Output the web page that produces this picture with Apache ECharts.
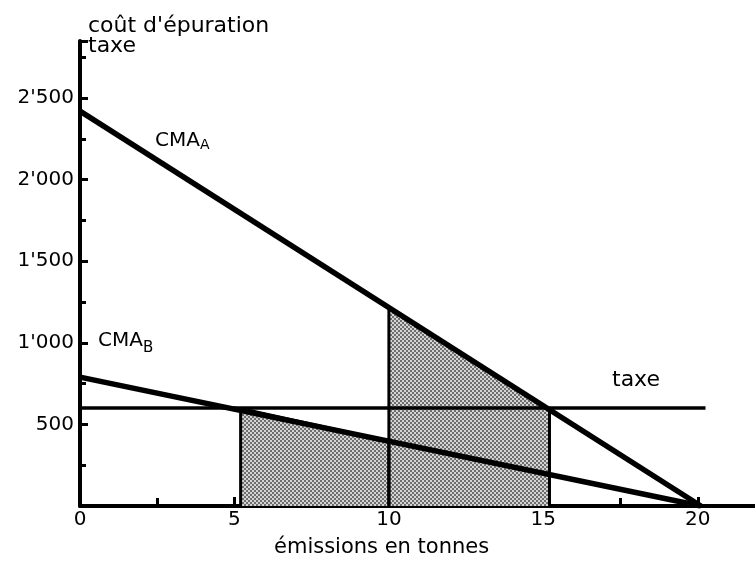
<!DOCTYPE html>
<html>
<head>
<meta charset="utf-8">
<script src="https://cdn.jsdelivr.net/npm/echarts@6/dist/echarts.min.js"></script>
<style>
html,body{margin:0;padding:0;background:#fff;}
#chart{width:755px;height:563px;}
</style>
</head>
<body>
<div id="chart"></div>
<script>
// ---- data ----
const cmaA = [[0, 2420], [20.1, 0]];          // CMA A
const cmaB = [[0, 790], [20.1, 0]];           // CMA B
const taxeLine = [[0, 600], [20.25, 600]];    // taxe
const areaA = [[10, 0], [10, 1215], [15.2, 592], [15.2, 0]];   // surface a
const areaB = [[5.2, 0], [5.2, 598], [10, 397], [10, 0]];      // surface b
const xTicks = [0, 5, 10, 15, 20];
const xTickLabels = ['0', '5', '10', '15', '20'];
const yTicks = [500, 1000, 1500, 2000, 2500];
const yTickLabels = ['500', "1'000", "1'500", "2'000", "2'500"];

const FONT = 'DejaVu Sans';
const chart = echarts.init(document.getElementById('chart'));

// stippled grey fill (checkerboard screen like the printed original)
const pat = document.createElement('canvas');
pat.width = 4; pat.height = 4;
const pctx = pat.getContext('2d');
pctx.fillStyle = '#d4d4d4'; pctx.fillRect(0, 0, 4, 4);
pctx.fillStyle = '#6e6e6e'; pctx.fillRect(0, 0, 2, 2); pctx.fillRect(2, 2, 2, 2);

function lineSeries(data, width, z) {
  return {
    type: 'line', data: data, showSymbol: false, animation: false, z: z,
    lineStyle: { color: '#000', width: width, cap: 'butt', join: 'miter' },
    silent: true
  };
}
function areaSeries(data) {
  return {
    type: 'line', data: data, showSymbol: false, animation: false, z: 1,
    lineStyle: { color: '#000', width: 3, cap: 'butt' },
    areaStyle: { color: { image: pat, repeat: 'repeat' }, opacity: 1 },
    silent: true
  };
}

chart.setOption({
  animation: false,
  backgroundColor: '#fff',
  grid: { left: 80, top: 41, height: 465, width: 695, containLabel: false, outerBoundsMode: 'none' },
  xAxis: {
    type: 'value', min: 0, max: 22.5, interval: 5,
    axisLine: { show: true, onZero: false, lineStyle: { color: '#000', width: 4 } },
    axisTick: { show: true, inside: true, length: 9, lineStyle: { color: '#000', width: 3 } },
    minorTick: { show: true, splitNumber: 2, length: 8, lineStyle: { color: '#000', width: 3 } },
    splitLine: { show: false },
    axisLabel: {
      color: '#000', fontFamily: FONT, fontSize: 20, margin: 4,
      formatter: v => { const i = xTicks.indexOf(v); return i >= 0 ? xTickLabels[i] : ''; }
    }
  },
  yAxis: {
    type: 'value', min: 0, max: 2850, interval: 500,
    axisLine: { show: true, onZero: false, lineStyle: { color: '#000', width: 4 } },
    axisTick: { show: true, inside: true, length: 8, lineStyle: { color: '#000', width: 3 } },
    minorTick: { show: true, splitNumber: 2, length: 6, lineStyle: { color: '#000', width: 3 } },
    splitLine: { show: false },
    axisLabel: {
      color: '#000', fontFamily: FONT, fontSize: 20, margin: 6,
      formatter: v => { const i = yTicks.indexOf(v); return i >= 0 ? yTickLabels[i] : ''; }
    }
  },
  series: [
    areaSeries(areaA),
    areaSeries(areaB),
    lineSeries(taxeLine, 3.5, 3),
    lineSeries(cmaB, 5.5, 4),
    lineSeries(cmaA, 5.5, 4)
  ],
  graphic: [
    { type: 'text', left: 88, top: 15, style: { text: "coût d'épuration", font: '22px "DejaVu Sans"', fill: '#000' } },
    { type: 'text', left: 88, top: 35, style: { text: 'taxe', font: '22px "DejaVu Sans"', fill: '#000' } },
    { type: 'text', left: 155, top: 131, style: { text: 'CMA', font: '20px "DejaVu Sans"', fill: '#000' } },
    { type: 'text', left: 200, top: 138, style: { text: 'A', font: '14px "DejaVu Sans"', fill: '#000' } },
    { type: 'text', left: 98, top: 331, style: { text: 'CMA', font: '20px "DejaVu Sans"', fill: '#000' } },
    { type: 'text', left: 143, top: 341, style: { text: 'B', font: '15px "DejaVu Sans"', fill: '#000' } },
    { type: 'text', left: 612, top: 369, style: { text: 'taxe', font: '22px "DejaVu Sans"', fill: '#000' } },
    { type: 'text', left: 452, top: 420, style: { text: 'a', font: '18px "DejaVu Sans"', fill: '#000' } },
    { type: 'text', left: 291, top: 444, style: { text: 'b', font: '18px "DejaVu Sans"', fill: '#000' } },
    { type: 'text', left: 274, top: 537, style: { text: 'émissions en tonnes', font: '21px "DejaVu Sans"', fill: '#000' } }
  ]
});
</script>
</body>
</html>
